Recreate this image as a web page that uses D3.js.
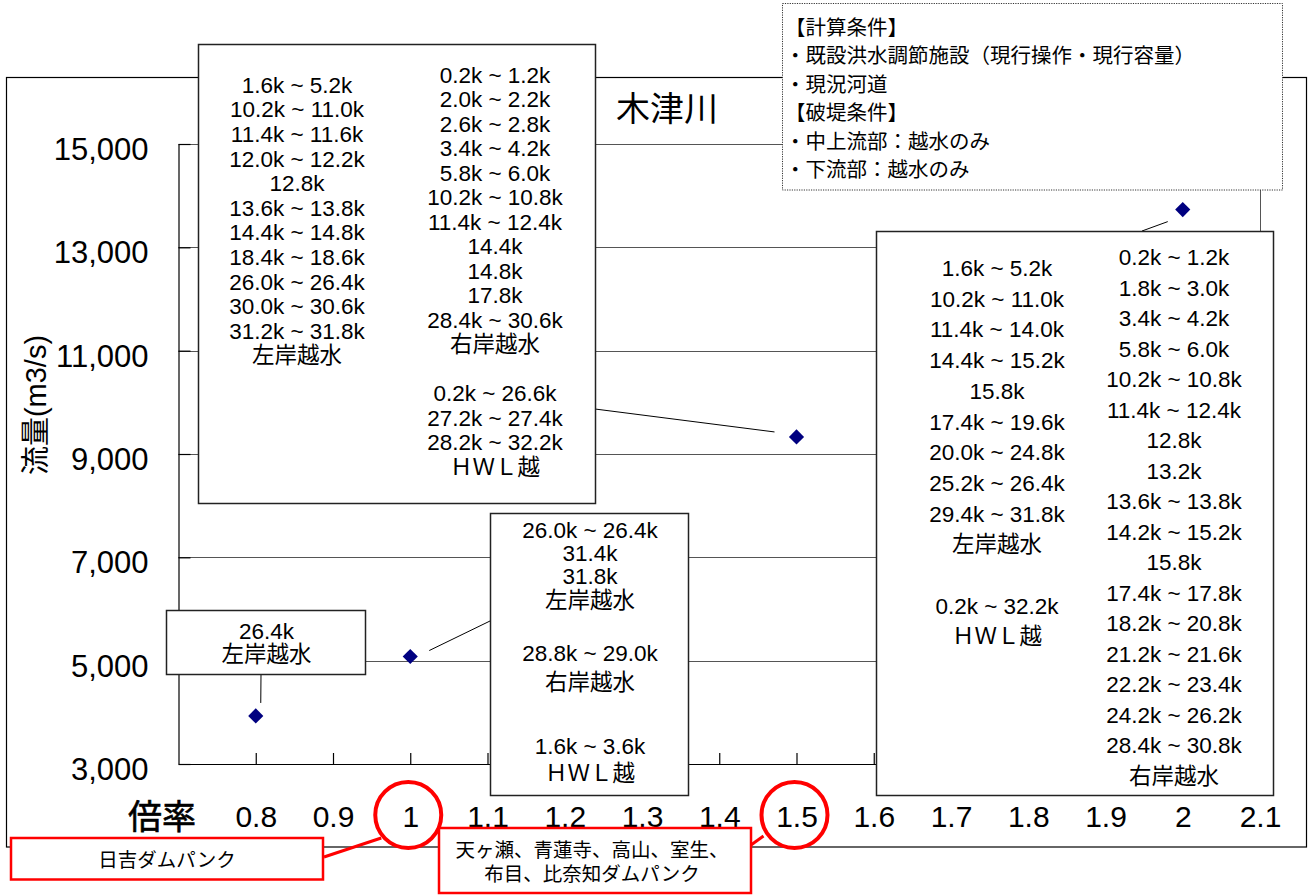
<!DOCTYPE html>
<html>
<head>
<meta charset="utf-8">
<script src="https://cdn.jsdelivr.net/npm/d3@7"></script>
<style>
  html, body { margin: 0; padding: 0; background: #fff; }
  svg { display: block; }
  text { font-family: "Liberation Sans", "Noto Sans CJK JP", sans-serif; fill: #000; }
</style>
</head>
<body>
<svg id="chart" width="1308" height="895"></svg>
<script>
// ---------------- data ----------------
const chartTitle = "木津川";
const yAxisTitle = "流量(m3/s)";
const xAxisTitle = "倍率";
const xTickValues = [0.8, 0.9, 1, 1.1, 1.2, 1.3, 1.4, 1.5, 1.6, 1.7, 1.8, 1.9, 2, 2.1];
const yTickValues = [3000, 5000, 7000, 9000, 11000, 13000, 15000];
const multipliers = [0.8, 1.0, 1.5, 2.0];
const peakFlows   = [3930, 5080, 9330, 13730];

const conditionLines = ["【計算条件】", "・既設洪水調節施設（現行操作・現行容量）", "・現況河道", "【破堤条件】", "・中上流部：越水のみ", "・下流部：越水のみ"];

const labelAt08 = ["26.4k", "左岸越水"];
const labelAt10 = ["26.0k ~ 26.4k", "31.4k", "31.8k", "左岸越水", "28.8k ~ 29.0k", "右岸越水", "1.6k ~ 3.6k", "ＨＷＬ越"];
const labelAt15Left  = ["1.6k ~ 5.2k", "10.2k ~ 11.0k", "11.4k ~ 11.6k", "12.0k ~ 12.2k", "12.8k", "13.6k ~ 13.8k", "14.4k ~ 14.8k", "18.4k ~ 18.6k", "26.0k ~ 26.4k", "30.0k ~ 30.6k", "31.2k ~ 31.8k", "左岸越水"];
const labelAt15Right = ["0.2k ~ 1.2k", "2.0k ~ 2.2k", "2.6k ~ 2.8k", "3.4k ~ 4.2k", "5.8k ~ 6.0k", "10.2k ~ 10.8k", "11.4k ~ 12.4k", "14.4k", "14.8k", "17.8k", "28.4k ~ 30.6k", "右岸越水", "", "0.2k ~ 26.6k", "27.2k ~ 27.4k", "28.2k ~ 32.2k", "ＨＷＬ越"];
const labelAt20Left  = ["1.6k ~ 5.2k", "10.2k ~ 11.0k", "11.4k ~ 14.0k", "14.4k ~ 15.2k", "15.8k", "17.4k ~ 19.6k", "20.0k ~ 24.8k", "25.2k ~ 26.4k", "29.4k ~ 31.8k", "左岸越水", "", "0.2k ~ 32.2k", "ＨＷＬ越"];
const labelAt20Right = ["0.2k ~ 1.2k", "1.8k ~ 3.0k", "3.4k ~ 4.2k", "5.8k ~ 6.0k", "10.2k ~ 10.8k", "11.4k ~ 12.4k", "12.8k", "13.2k", "13.6k ~ 13.8k", "14.2k ~ 15.2k", "15.8k", "17.4k ~ 17.8k", "18.2k ~ 20.8k", "21.2k ~ 21.6k", "22.2k ~ 23.4k", "24.2k ~ 26.2k", "28.4k ~ 30.8k", "右岸越水"];

const damNoteA = ["日吉ダムパンク"];
const damNoteB = ["天ヶ瀬、青蓮寺、高山、室生、", "布目、比奈知ダムパンク"];
const circledTicks = [1, 1.5];

// ---------------- layout ----------------
const svg = d3.select("#chart");
const x = d3.scaleLinear().domain([0.7, 2.1]).range([178.5, 1260]);
const y = d3.scaleLinear().domain([3000, 15000]).range([764, 144]);
const boxFont = 22.5;

// outer frame
svg.append("rect").attr("x", 6.5).attr("y", 77.5).attr("width", 1300).attr("height", 769.5)
  .attr("fill", "none").attr("stroke", "#000").attr("stroke-width", 1.2);

// gridlines
svg.append("g").selectAll("line").data(yTickValues.filter(v => v > y.domain()[0]))
  .join("line")
  .attr("x1", x.range()[0]).attr("x2", x.range()[1])
  .attr("y1", d => Math.round(y(d)) + 0.5).attr("y2", d => Math.round(y(d)) + 0.5)
  .attr("stroke", "#555").attr("stroke-width", 1);

// right border of plot
svg.append("line").attr("x1", x.range()[1] + 0.5).attr("x2", x.range()[1] + 0.5)
  .attr("y1", y.range()[1]).attr("y2", y.range()[0]).attr("stroke", "#555");

// axes
const yAxis = svg.append("g").attr("transform", `translate(${x.range()[0]},0)`)
  .call(d3.axisLeft(y).tickValues(yTickValues).tickFormat(d3.format(",")).tickSize(-12).tickSizeOuter(0).tickPadding(30));
yAxis.selectAll("text").attr("font-size", 31).attr("dy", "0.5em")
  .style("font-family", '"Liberation Sans", sans-serif');
yAxis.selectAll("line, path").attr("stroke", "#000").attr("stroke-width", 1.2);

const xAxis = svg.append("g").attr("transform", `translate(0,${y.range()[0]})`)
  .call(d3.axisBottom(x).tickValues(xTickValues).tickFormat(d3.format("~g")).tickSize(-11).tickSizeOuter(0));
xAxis.selectAll("text").attr("font-size", 30).attr("y", 63).attr("dy", 0)
  .style("font-family", '"Liberation Sans", sans-serif');
xAxis.selectAll("line, path").attr("stroke", "#000").attr("stroke-width", 1.2);
xAxis.selectAll(".tick").filter(d => d === 2.1).select("line").remove();

// axis titles & chart title
svg.append("text").attr("transform", "translate(46,405) rotate(-90)")
  .attr("text-anchor", "middle").attr("font-size", 29).text(yAxisTitle);
svg.append("text").attr("x", 162).attr("y", 829).attr("text-anchor", "middle")
  .attr("font-size", 34).style("stroke", "#000").style("stroke-width", 0.6).text(xAxisTitle);
svg.append("text").attr("x", 667).attr("y", 121).attr("text-anchor", "middle")
  .attr("font-size", 34).text(chartTitle);

// helper for annotation boxes
function box(x0, y0, x1, y1) {
  svg.append("rect").attr("x", x0).attr("y", y0).attr("width", x1 - x0).attr("height", y1 - y0)
    .attr("fill", "#fff").attr("stroke", "#222").attr("stroke-width", 1.5);
}
function lines(arr, cx, baselines, size) {
  svg.append("g").selectAll("text").data(arr).join("text")
    .attr("x", cx).attr("y", (d, i) => baselines(i)).attr("text-anchor", "middle")
    .attr("font-size", size).text(d => d);
}

// connectors (drawn before boxes so boxes sit on top)
const px = multipliers.map(m => x(m));
const py = peakFlows.map(f => y(f));
svg.append("line").attr("x1", 261).attr("y1", 674).attr("x2", px[0] + 5).attr("y2", py[0] - 13).attr("stroke", "#000");
svg.append("line").attr("x1", 490).attr("y1", 621).attr("x2", px[1] + 19).attr("y2", py[1] - 6).attr("stroke", "#000");
svg.append("line").attr("x1", 595).attr("y1", 409).attr("x2", px[2] - 22).attr("y2", py[2] - 5).attr("stroke", "#000");
svg.append("line").attr("x1", 1142).attr("y1", 231).attr("x2", px[3] - 15).attr("y2", py[3] + 12).attr("stroke", "#000");

// boxes
box(198.5, 44.5, 595.5, 503.5);
lines(labelAt15Left, 297, i => 92.7 + i * 24.6, boxFont);
lines(labelAt15Right, 495, i => 82.7 + i * 24.5, boxFont);

box(166.5, 610.5, 365.5, 674.5);
lines(labelAt08, 266.5, i => 639 + i * 23, boxFont);

const midBase = [538, 561, 584, 607.5, 661, 689.5, 754, 781];
box(490.5, 513.5, 688.5, 795.5);
lines(labelAt10, 590, i => midBase[i], boxFont);

box(876.5, 231.5, 1273.5, 795.5);
lines(labelAt20Left, 997, i => 276 + i * 30.7, boxFont);
lines(labelAt20Right, 1174, i => 265 + i * 30.5, boxFont);

// condition box (dotted)
svg.append("rect").attr("x", 782.5).attr("y", 3.5).attr("width", 500).attr("height", 186.5)
  .attr("fill", "#fff").attr("stroke", "#333").attr("stroke-width", 1).attr("stroke-dasharray", "1.2,1.2");
svg.append("g").selectAll("text").data(conditionLines).join("text")
  .attr("x", 785).attr("y", (d, i) => 35 + i * 28.4).attr("font-size", 20.5).text(d => d);

// data points (navy diamonds)
svg.append("g").selectAll("path").data(multipliers).join("path")
  .attr("d", d3.symbol().type(d3.symbolSquare).size(115))
  .attr("transform", (d, i) => `translate(${x(d)},${y(peakFlows[i])}) rotate(45)`)
  .attr("fill", "#000080");

// red annotations
const red = "#f00";
svg.append("g").selectAll("circle").data(circledTicks).join("circle")
  .attr("cx", d => x(d) - 2).attr("cy", 815).attr("r", 33)
  .attr("fill", "none").attr("stroke", red).attr("stroke-width", 4);
svg.append("line").attr("x1", 324).attr("y1", 857).attr("x2", x(circledTicks[0]) - 29).attr("y2", 838)
  .attr("stroke", red).attr("stroke-width", 3);
svg.append("line").attr("x1", 751).attr("y1", 845).attr("x2", x(circledTicks[1]) - 33).attr("y2", 836)
  .attr("stroke", red).attr("stroke-width", 3);

svg.append("rect").attr("x", 11).attr("y", 838).attr("width", 312).attr("height", 41.5)
  .attr("fill", "#fff").attr("stroke", red).attr("stroke-width", 2.5);
lines(damNoteA, 167, i => 867, 19.5);

svg.append("rect").attr("x", 439).attr("y", 828).attr("width", 312).attr("height", 65)
  .attr("fill", "#fff").attr("stroke", red).attr("stroke-width", 2.5);
lines(damNoteB, 592, i => 857 + i * 24, 19.5);
</script>
</body>
</html>
